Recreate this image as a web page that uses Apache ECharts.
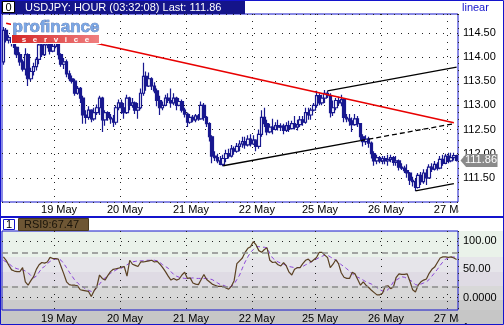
<!DOCTYPE html>
<html><head><meta charset="utf-8">
<script src="https://cdn.jsdelivr.net/npm/echarts@6.0.0/dist/echarts.min.js"></script>
<style>html,body{margin:0;padding:0;background:#fff}#c{width:504px;height:325px}</style>
</head><body><div id="c"></div>
<script>
const dayLabels = ['19 May','20 May','21 May','22 May','25 May','26 May','27 May'];
const dayStart = [19,43,67,91,114,138,162];
const opens = [113.90,114.55,114.35,114.40,114.30,114.20,114.05,113.90,113.75,114.05,
113.55,113.70,113.80,113.95,114.25,114.05,114.25,114.30,114.12,114.22,
114.30,114.05,113.85,113.90,113.65,113.55,113.50,113.25,113.35,113.15,
112.80,112.75,112.90,112.72,112.85,112.95,113.15,112.70,112.85,112.75,
112.72,112.65,112.95,113.05,112.95,112.85,113.15,113.00,113.05,112.90,
112.95,113.25,113.60,113.40,113.55,113.40,113.30,113.10,112.95,113.00,
113.15,113.10,113.05,113.15,113.00,113.08,112.90,112.82,112.65,112.75,
112.70,112.78,112.72,113.00,112.75,112.62,112.35,111.95,111.92,111.85,
111.78,111.90,112.00,111.95,112.10,112.05,112.15,112.20,112.25,112.18,
112.30,112.20,112.28,112.15,112.40,112.75,112.62,112.45,112.55,112.50,
112.58,112.55,112.57,112.48,112.58,112.52,112.62,112.55,112.60,112.70,
112.65,112.85,112.80,112.90,113.00,113.20,113.05,113.15,113.25,113.20,
112.85,112.95,113.10,113.05,113.12,112.75,112.72,112.68,112.60,112.72,
112.62,112.35,112.25,112.30,112.22,112.00,111.85,111.92,111.85,111.90,
111.85,111.88,111.92,111.82,111.85,111.72,111.70,111.65,111.60,111.45,
111.42,111.30,111.55,111.42,111.60,111.50,111.72,111.68,111.78,111.70,
111.88,111.80,111.95,111.85,111.92,111.96];
const closes = [114.55,114.35,114.40,114.30,114.20,114.05,113.90,113.75,114.05,113.55,
113.70,113.80,113.95,114.25,114.05,114.25,114.30,114.12,114.22,114.30,
114.05,113.85,113.90,113.65,113.55,113.50,113.25,113.35,113.15,112.80,
112.75,112.90,112.72,112.85,112.95,113.15,112.70,112.85,112.75,112.72,
112.65,112.95,113.05,112.95,112.85,113.15,113.00,113.05,112.90,112.95,
113.25,113.60,113.40,113.55,113.40,113.30,113.10,112.95,113.00,113.15,
113.10,113.05,113.15,113.00,113.08,112.90,112.82,112.65,112.75,112.70,
112.78,112.72,113.00,112.75,112.62,112.35,111.95,111.92,111.85,111.78,
111.90,112.00,111.95,112.10,112.05,112.15,112.20,112.25,112.18,112.30,
112.20,112.28,112.15,112.40,112.75,112.62,112.45,112.55,112.50,112.58,
112.55,112.57,112.48,112.58,112.52,112.62,112.55,112.60,112.70,112.65,
112.85,112.80,112.90,113.00,113.20,113.05,113.15,113.25,113.20,112.85,
112.95,113.10,113.05,113.12,112.75,112.72,112.68,112.60,112.72,112.62,
112.35,112.25,112.30,112.22,112.00,111.85,111.92,111.85,111.90,111.85,
111.88,111.92,111.82,111.85,111.72,111.70,111.65,111.60,111.45,111.42,
111.30,111.55,111.42,111.60,111.50,111.72,111.68,111.78,111.70,111.88,
111.80,111.95,111.85,111.92,111.96,111.86];
const lows = [113.84,114.30,114.28,114.22,114.05,113.98,113.82,113.70,113.62,113.40,
113.50,113.62,113.72,113.85,114.00,114.02,114.18,114.05,114.10,114.18,
113.95,113.80,113.75,113.58,113.50,113.45,113.20,113.22,113.05,112.62,
112.62,112.70,112.65,112.68,112.80,112.80,112.45,112.58,112.68,112.62,
112.55,112.60,112.90,112.82,112.72,112.82,112.90,112.95,112.82,112.72,
112.92,113.20,113.30,113.38,113.32,113.25,112.98,112.80,112.90,112.98,
113.05,112.95,113.00,112.90,112.98,112.85,112.75,112.55,112.62,112.65,
112.65,112.68,112.70,112.68,112.55,112.25,111.80,111.85,111.80,111.76,
111.74,111.82,111.90,111.92,111.98,112.02,112.05,112.12,112.10,112.15,
112.15,112.18,112.05,112.10,112.35,112.55,112.38,112.42,112.40,112.48,
112.48,112.47,112.40,112.45,112.45,112.50,112.50,112.48,112.55,112.58,
112.62,112.70,112.70,112.88,112.95,113.00,113.00,113.05,113.15,112.75,
112.78,112.90,113.00,112.98,112.65,112.65,112.58,112.45,112.58,112.55,
112.28,112.15,112.18,112.12,111.90,111.75,111.78,111.80,111.78,111.78,
111.75,111.82,111.75,111.75,111.65,111.66,111.60,111.50,111.35,111.32,
111.23,111.28,111.35,111.38,111.35,111.48,111.62,111.65,111.65,111.68,
111.75,111.78,111.80,111.82,111.86,111.84];
const highs = [114.62,114.60,114.45,114.42,114.33,114.22,114.10,113.95,114.18,114.08,
113.78,113.88,114.00,114.32,114.32,114.30,114.35,114.32,114.30,114.35,
114.33,114.08,113.98,113.95,113.72,113.62,113.55,113.40,113.38,113.20,
112.90,112.98,112.92,112.95,113.02,113.20,113.18,112.90,112.88,112.82,
112.80,113.00,113.12,113.12,113.05,113.22,113.18,113.15,113.08,113.05,
113.35,113.88,113.70,113.68,113.58,113.48,113.35,113.20,113.08,113.22,
113.25,113.35,113.25,113.18,113.15,113.12,112.95,112.85,112.82,112.80,
112.82,112.82,113.08,113.05,112.78,112.65,112.38,112.05,112.00,111.95,
111.98,112.08,112.10,112.18,112.15,112.22,112.28,112.35,112.35,112.38,
112.40,112.38,112.30,112.50,112.90,112.95,112.70,112.62,112.72,112.65,
112.70,112.63,112.62,112.65,112.68,112.68,112.78,112.70,112.78,112.78,
112.95,112.95,112.95,113.05,113.30,113.25,113.22,113.32,113.30,113.25,
113.10,113.15,113.18,113.22,113.15,112.82,112.82,112.75,112.82,112.78,
112.62,112.40,112.38,112.35,112.25,112.05,111.98,111.95,111.95,111.95,
111.98,111.98,111.95,111.95,111.88,111.80,111.75,111.78,111.62,111.52,
111.48,111.60,111.62,111.68,111.68,111.78,111.80,111.85,111.82,111.95,
111.98,112.00,112.02,112.02,112.02,111.98];
const rsi = [72,66,57,49,47,46,46,53,28,22,
30,37,50,58,62,61,63,71,69,69,
68,55,42,28,23,22,22,21,14,13,
12,11,2,12,19,40,34,31,39,46,
50,51,52,54,55,38,66,59,57,55,
63,63,64,65,66,63,64,59,53,46,
38,31,34,31,33,40,45,34,35,26,
24,23,32,41,32,28,24,22,20,20,
20,17,15,20,30,60,65,70,80,87,
90,99,93,83,80,85,88,66,62,63,
58,56,62,56,45,40,50,53,53,60,
66,68,63,67,71,80,80,75,71,53,
59,67,60,44,36,34,34,45,42,32,
22,28,22,18,13,9,5,5,8,20,
21,16,19,36,42,41,41,42,29,14,
10,22,28,31,33,43,50,54,62,70,
72,72,71,72,70,67.47];
const rsiSignal = [66,63,60,56,53,51,50,49,47,44,
39,35,38,45,52,55,60,64,67,68,
69,66,60,53,45,38,31,26,22,19,
15,13,11,12,18,24,30,35,40,43,
46,49,51,52,55,58,61,63,64,65,
65,65,66,66,66,66,65,62,58,55,
52,46,41,38,36,35,34,34,34,35,
34,34,34,34,34,33,32,29,26,23,
22,20,19,20,24,32,40,52,63,72,
80,85,90,90,89,89,88,78,70,66,
63,61,59,57,55,54,53,53,53,55,
58,60,63,66,68,71,73,75,75,72,
69,66,63,58,55,51,47,42,39,36,
34,31,28,26,24,21,18,14,12,11,
14,20,28,31,34,37,36,34,31,28,
23,22,24,26,28,32,38,44,50,57,
63,68,70,71,72,70];
const lastPrice = 111.86;
const lastRsi = 67.47;
const rsiLevels = [20, 80];
const rsiBounds = [0, 100];
const redLine = [[1,114.70],[164,112.64]];
const channelUpper = [[118,113.30],[165,113.79]];
const channelLowerSolid = [[80,111.75],[130,112.27]];
const channelLowerDash = [[130,112.27],[164,112.62]];
const bottomLine = [[150,111.23],[164,111.38]];

const FONT = '"Liberation Sans", Arial, sans-serif';
const BLUE = '#1414cc';
const BAR = '#18188f';
const dotted = {color:'#222', width:1, type:[1,6]};
const cats = opens.map((_, i) => String(i));
const isDay = (i) => dayStart.indexOf(i) >= 0;
const dayName = (i) => { const k = dayStart.indexOf(Number(i)); return k >= 0 ? dayLabels[k] : ''; };

function xAxisFor(g) {
  return {
    type:'category', gridIndex:g, data:cats, boundaryGap:true,
    axisLine:{show:false}, axisTick:{show:false},
    axisLabel:{interval:(i)=>isDay(i), formatter:(v)=>dayName(v), fontSize:11, color:'#000',
      fontFamily:FONT, margin: g ? 3 : 2, padding:[0,0,0,7]},
    splitLine:{show:true, interval:(i)=>isDay(i), lineStyle:dotted}
  };
}
function trend(data, marker, style) {
  return {
    type:'line', xAxisIndex:0, yAxisIndex:0, symbol:'none', showSymbol:true, silent:true,
    data: data.map((p, k) => (k === 0 && marker) ? {value:p, symbol:'diamond', symbolSize:7} : {value:p}),
    itemStyle:{color:style.color}, lineStyle:style, z:4, animation:false
  };
}

const chart = echarts.init(document.getElementById('c'), null, {renderer:'canvas'});
chart.setOption({
  animation:false,
  grid:[
    {left:2, top:14, width:456, height:188, show:true, borderColor:BLUE, borderWidth:1, backgroundColor:'transparent', outerBoundsMode:'none'},
    {left:2, top:231, width:456, height:79, show:true, borderColor:BLUE, borderWidth:1, backgroundColor:'transparent', outerBoundsMode:'none'}
  ],
  xAxis:[xAxisFor(0), xAxisFor(1)],
  yAxis:[
    {type:'value', gridIndex:0, position:'right', min:111, max:114.89, interval:0.5, scale:true,
     axisLine:{show:false}, axisTick:{show:false},
     axisLabel:{formatter:(v)=>v.toFixed(2), showMinLabel:false, showMaxLabel:false, margin:5, fontSize:11, color:'#000', fontFamily:FONT},
     splitLine:{show:true, lineStyle:dotted}},
    {type:'value', gridIndex:1, position:'right', min:-21.7, max:117.6,
     axisLine:{show:false}, axisTick:{show:false},
     axisLabel:{customValues:[0,50,100], formatter:(v)=> v === 0 ? '0.0000' : v.toFixed(2), margin:5, fontSize:11, color:'#000', fontFamily:FONT},
     splitLine:{show:false}}
  ],
  series:[
    {type:'candlestick', xAxisIndex:0, yAxisIndex:0, barWidth:3,
     data: opens.map((o, i) => [o, closes[i], lows[i], highs[i]]),
     itemStyle:{color:'#ffffff', color0:BAR, borderColor:BAR, borderColor0:BAR, borderWidth:1.2},
     markPoint:{silent:true, animation:false,
       symbol:'path://M0,6.5L6,0L40,0L40,13L6,13Z', symbolSize:[37,13], symbolKeepAspect:false,
       itemStyle:{color:'#8a8a8a'},
       label:{show:true, formatter: lastPrice.toFixed(2), color:'#fff', fontSize:11, fontFamily:FONT, offset:[2,0]},
       data:[{xAxis:opens.length-1, yAxis:lastPrice, x:479}]}
    },
    trend(redLine, false, {color:'#e80000', width:1.5}),
    trend(channelUpper, true, {color:'#000', width:1.3}),
    trend(channelLowerSolid, true, {color:'#000', width:1.3}),
    trend(channelLowerDash, false, {color:'#000', width:1.3, type:[5,3]}),
    trend(bottomLine, true, {color:'#000', width:1.3}),
    {type:'line', xAxisIndex:1, yAxisIndex:1, data:rsi, symbol:'none', silent:true,
     lineStyle:{color:'#5a4022', width:1.2}, z:4,
     markLine:{silent:true, symbol:['none','none'], label:{show:false}, animation:false,
       data:[
         ...rsiBounds.map(v => ({yAxis:v, lineStyle:{color:'#222', width:1, type:[1,6]}})),
         ...rsiLevels.map(v => ({yAxis:v, lineStyle:{color:'#8a8a8a', width:1.5, type:[6,4]}}))
       ]}},
    {type:'line', xAxisIndex:1, yAxisIndex:1, data:rsiSignal, symbol:'none', silent:true,
     lineStyle:{color:'#8a44d8', width:1, type:[4,3]}, z:3}
  ],
  graphic:{elements:[
    {type:'rect', silent:true, z:-10, shape:{x:1,y:231,width:502,height:26}, style:{fill:'#eaf2ea'}},
    {type:'rect', silent:true, z:-10, shape:{x:1,y:257,width:502,height:15}, style:{fill:'#e6e5ea'}},
    {type:'rect', silent:true, z:-10, shape:{x:1,y:272,width:502,height:14}, style:{fill:'#dfdbe4'}},
    {type:'rect', silent:true, z:-10, shape:{x:1,y:286,width:502,height:14}, style:{fill:'#d8d8d8'}},
    {type:'rect', silent:true, z:-10, shape:{x:1,y:300,width:502,height:10}, style:{fill:'#cbcbcb'}},
    {type:'rect', silent:true, z:-10, shape:{x:1,y:310,width:502,height:14}, style:{fill:'#c6c6c6'}},
    {type:'rect', silent:true, z:100, shape:{x:0,y:0,width:245,height:14}, style:{fill:'#14148a'}},
    {type:'text', silent:true, z:101, x:25, y:7.5, style:{text:'USDJPY: HOUR (03:32:08) Last: ' + lastPrice.toFixed(2), fill:'#fff', font:'11px ' + FONT, verticalAlign:'middle'}},
    {type:'rect', silent:true, z:101, shape:{x:2.5,y:1.5,width:12,height:11}, style:{fill:'#fff', stroke:'#000', lineWidth:1}},
    {type:'text', silent:true, z:102, x:8.5, y:7.5, style:{text:'0', fill:'#000', font:'11px ' + FONT, align:'center', verticalAlign:'middle'}},
    {type:'text', silent:true, z:101, x:462, y:8, style:{text:'linear', fill:BLUE, font:'11px ' + FONT, verticalAlign:'middle'}},
    {type:'rect', silent:true, z:90, shape:{x:11,y:19,width:90,height:25}, style:{fill:'#fff'}},
    {type:'text', silent:true, z:91, x:56, y:27, style:{text:'profinance', fill:'#7aa6e4', stroke:'#3c5a9c', lineWidth:0.6, font:'bold 17px ' + FONT, align:'center', verticalAlign:'middle', shadowColor:'#2a3560', shadowOffsetX:1, shadowOffsetY:1, shadowBlur:0}},
    {type:'rect', silent:true, z:91, shape:{x:12,y:35,width:87,height:8}, style:{fill:new echarts.graphic.LinearGradient(0,0,1,0,[{offset:0,color:'#d42626'},{offset:1,color:'#f08080'}])}},
    {type:'text', silent:true, z:92, x:55.5, y:39.5, style:{text:'s   e   r   v   i   c   e', fill:'#fff', font:'bold 8px ' + FONT, align:'center', verticalAlign:'middle'}},
    {type:'rect', silent:true, z:100, shape:{x:459,y:203,width:44,height:12}, style:{fill:'#fff'}},
    {type:'rect', silent:true, z:100, shape:{x:0,y:216,width:504,height:2}, style:{fill:BLUE}},
    {type:'rect', silent:true, z:100, shape:{x:3.5,y:219.5,width:11,height:10}, style:{fill:'#fff', stroke:BLUE, lineWidth:1}},
    {type:'text', silent:true, z:101, x:9, y:224.5, style:{text:'1', fill:'#000', font:'11px ' + FONT, align:'center', verticalAlign:'middle'}},
    {type:'rect', silent:true, z:100, shape:{x:18.5,y:218.5,width:70,height:12}, style:{fill:'#6e5634', stroke:'#4a3a20', lineWidth:1}},
    {type:'text', silent:true, z:101, x:24, y:224.5, style:{text:'RSI9:' + lastRsi.toFixed(2), fill:'#1a140a', font:'11px ' + FONT, verticalAlign:'middle'}},
    {type:'rect', silent:true, z:100, shape:{x:459,y:311,width:43,height:12}, style:{fill:'#c6c6c6'}},
    {type:'rect', silent:true, z:110, shape:{x:0.5,y:0.5,width:503,height:324}, style:{fill:'none', stroke:BLUE, lineWidth:1}}
  ]}
});
</script></body></html>
